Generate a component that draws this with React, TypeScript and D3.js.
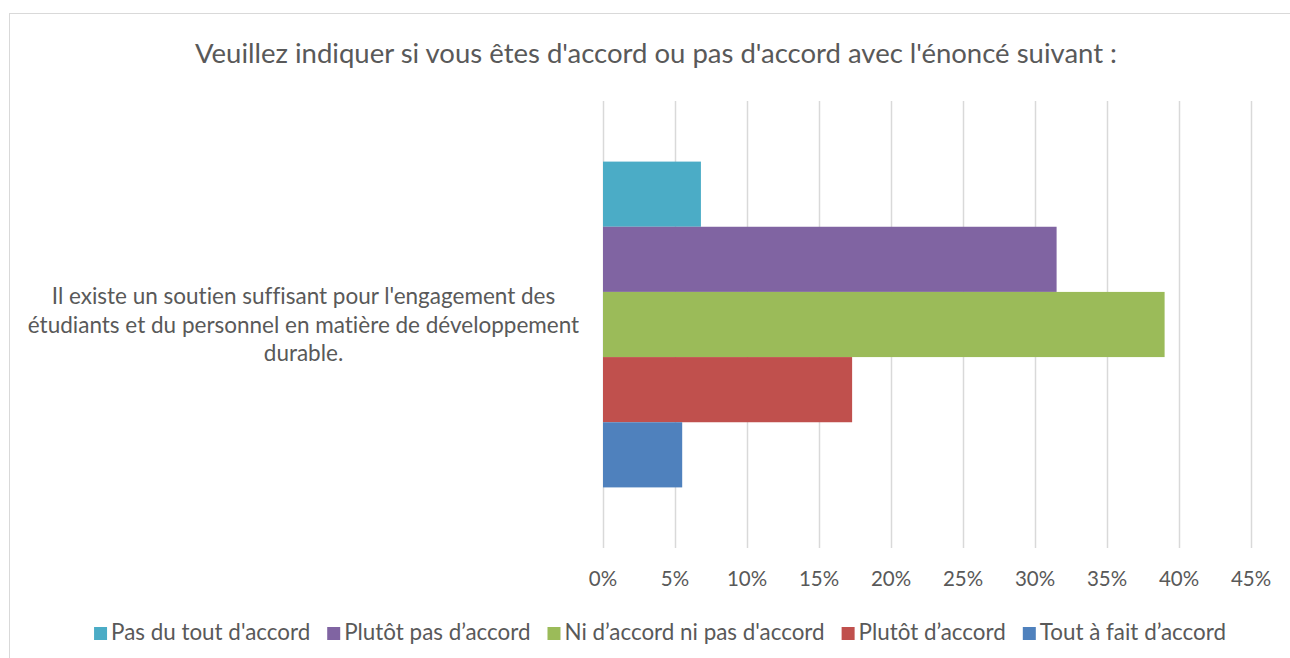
import React, { useEffect, useRef } from "react";
import * as d3 from "d3";

const title = "Veuillez indiquer si vous êtes d'accord ou pas d'accord avec l'énoncé suivant :";
const categoryLines = [
  "Il existe un soutien suffisant pour l'engagement des",
  "étudiants et du personnel en matière de développement",
  "durable.",
];
const seriesNames = [
  "Pas du tout d'accord",
  "Plutôt pas d’accord",
  "Ni d’accord ni pas d'accord",
  "Plutôt d’accord",
  "Tout à fait d’accord",
];
const seriesValues = [0.068, 0.315, 0.39, 0.173, 0.055];
const seriesColors = ["#4BACC6", "#8064A2", "#9BBB59", "#C0504D", "#4F81BD"];
const tickValues = [0, 0.05, 0.1, 0.15, 0.2, 0.25, 0.3, 0.35, 0.4, 0.45];

const W = 1290;
const H = 658;
const FONT = "Lato, 'Open Sans', sans-serif";
const TEXT = "#595959";
const GRID = "#D9D9D9";

export default function App() {
  const ref = useRef<SVGSVGElement | null>(null);

  useEffect(() => {
    document.body.style.margin = "0";
    const svg = d3.select(ref.current);
    svg.selectAll("*").remove();
    svg.style("font-variant-ligatures", "none");

    // outer border
    svg
      .append("rect")
      .attr("x", 9.5)
      .attr("y", 13.5)
      .attr("width", W + 20)
      .attr("height", H + 20)
      .attr("fill", "white")
      .attr("stroke", GRID)
      .attr("stroke-width", 1);

    // title
    svg
      .append("text")
      .attr("x", 656)
      .attr("y", 63)
      .attr("text-anchor", "middle")
      .attr("font-family", FONT)
      .attr("font-size", 27.5)
      .attr("fill", TEXT)
      .text(title);

    const x = d3.scaleLinear().domain([0, 0.45]).range([603, 1251]);
    const plotTop = 101;
    const plotBottom = 548;
    const y = d3
      .scaleBand<string>()
      .domain(seriesNames)
      .range([plotTop, plotBottom])
      .paddingInner(0)
      .paddingOuter(0.93);

    // gridlines
    svg
      .append("g")
      .selectAll("line")
      .data(tickValues)
      .join("line")
      .attr("x1", (d) => Math.round(x(d)) + 0.5)
      .attr("x2", (d) => Math.round(x(d)) + 0.5)
      .attr("y1", plotTop)
      .attr("y2", plotBottom)
      .attr("stroke", GRID)
      .attr("stroke-width", 1.5);

    // bars
    svg
      .append("g")
      .selectAll("rect")
      .data(seriesNames.map((n, i) => ({ n, v: seriesValues[i], c: seriesColors[i] })))
      .join("rect")
      .attr("x", x(0))
      .attr("y", (d) => y(d.n) as number)
      .attr("width", (d) => x(d.v) - x(0))
      .attr("height", y.bandwidth())
      .attr("fill", (d) => d.c);

    // x tick labels
    const fmt = d3.format(".0%");
    svg
      .append("g")
      .selectAll("text")
      .data(tickValues)
      .join("text")
      .attr("x", (d) => x(d))
      .attr("y", 586)
      .attr("text-anchor", "middle")
      .attr("font-family", FONT)
      .attr("font-size", 20.5)
      .attr("fill", TEXT)
      .text((d) => fmt(d));

    // category label
    const catY = (plotTop + plotBottom) / 2;
    const lh = 28.5;
    svg
      .append("g")
      .selectAll("text")
      .data(categoryLines)
      .join("text")
      .attr("x", 303.5)
      .attr("y", (d, i) => catY + (i - 1) * lh + 8)
      .attr("text-anchor", "middle")
      .attr("font-family", FONT)
      .attr("font-size", 22.5)
      .attr("fill", TEXT)
      .text((d) => d);

    // legend
    const lg = svg.append("g");
    const items = lg
      .selectAll("g")
      .data(seriesNames.map((n, i) => ({ n, c: seriesColors[i] })))
      .join("g");
    items
      .append("rect")
      .attr("width", 13)
      .attr("height", 13)
      .attr("y", 627)
      .attr("fill", (d) => d.c);
    items
      .append("text")
      .attr("x", 17)
      .attr("y", 640)
      .attr("font-family", FONT)
      .attr("font-size", 22.4)
      .attr("fill", TEXT)
      .text((d) => d.n);
    const widths: number[] = [];
    items.each(function () {
      const t = d3.select(this).select("text").node() as SVGTextElement;
      widths.push(17 + t.getComputedTextLength());
    });
    const gap = 17;
    const total = widths.reduce((a, b) => a + b, 0) + gap * (widths.length - 1);
    let cx = 660 - total / 2;
    items.each(function (d, i) {
      d3.select(this).attr("transform", `translate(${cx},0)`);
      cx += widths[i] + gap;
    });
  }, []);

  return <svg ref={ref} width={W} height={H} style={{ display: "block" }} />;
}
